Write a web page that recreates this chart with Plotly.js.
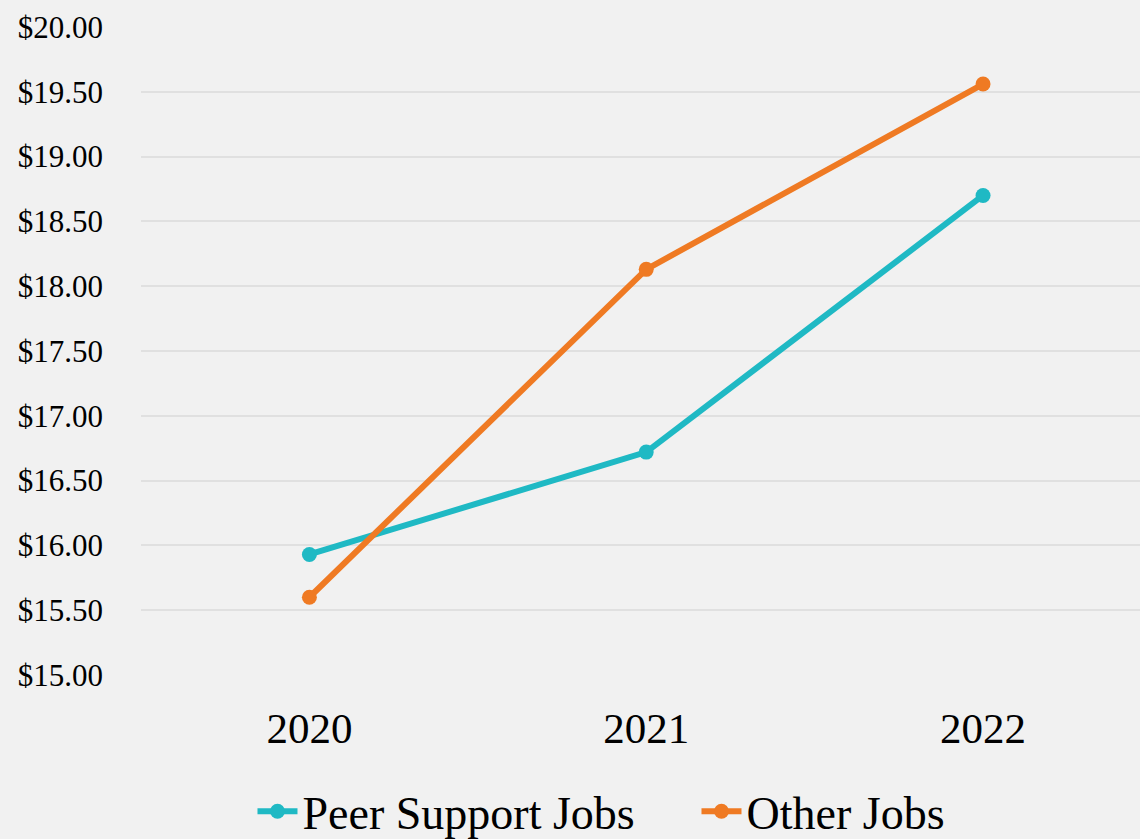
<!DOCTYPE html>
<html>
<head>
<meta charset="utf-8">
<script src="https://cdn.plot.ly/plotly-3.0.1.min.js"></script>
<style>html,body{margin:0;padding:0;background:#f1f1f1;}#chart{width:1140px;height:839px;}</style>
</head>
<body>
<div id="chart"></div>
<script>
const years = ['2020', '2021', '2022'];
const peerSupport = [15.93, 16.72, 18.70];
const otherJobs = [15.60, 18.13, 19.56];
const yTickVals = [15, 15.5, 16, 16.5, 17, 17.5, 18, 18.5, 19, 19.5, 20];
const yTickText = ['$15.00', '$15.50', '$16.00', '$16.50', '$17.00', '$17.50', '$18.00', '$18.50', '$19.00', '$19.50', '$20.00'];

const fontFam = '"Liberation Serif", "DejaVu Serif", serif';
const traces = [
  {x: years, y: peerSupport, name: 'Peer Support Jobs', type: 'scatter', mode: 'lines+markers',
   line: {color: '#1fb9c4', width: 6}, marker: {color: '#1fb9c4', size: 15}, cliponaxis: false},
  {x: years, y: otherJobs, name: 'Other Jobs', type: 'scatter', mode: 'lines+markers',
   line: {color: '#ef7a23', width: 6}, marker: {color: '#ef7a23', size: 15}, cliponaxis: false}
];
const layout = {
  width: 1140, height: 839,
  paper_bgcolor: '#f1f1f1', plot_bgcolor: '#f1f1f1',
  margin: {l: 140.5, r: 0, t: 26.5, b: 164, autoexpand: false},
  font: {family: fontFam, color: '#000'},
  xaxis: {type: 'category', range: [-0.5, 2.466], showgrid: false, zeroline: false, showline: false, automargin: false,
          ticks: '', tickfont: {size: 43, family: fontFam}, ticklabelstandoff: 24},
  yaxis: {range: [15, 20], tickvals: yTickVals, ticktext: yTickText, showgrid: true, gridcolor: '#e0e0e0', gridwidth: 2,
          zeroline: false, showline: false, automargin: false, ticks: '', tickfont: {size: 31, family: fontFam}, ticklabelstandoff: 37},
  showlegend: true,
  legend: {orientation: 'h', x: 0.1116, xanchor: 'left', yref: 'container', y: 0.033, yanchor: 'middle',
           entrywidth: 389, entrywidthmode: 'pixels',
           font: {size: 46, family: fontFam}, bgcolor: 'rgba(0,0,0,0)', itemwidth: 40}
};
Plotly.newPlot('chart', traces, layout, {displayModeBar: false, staticPlot: true});
</script>
</body>
</html>
